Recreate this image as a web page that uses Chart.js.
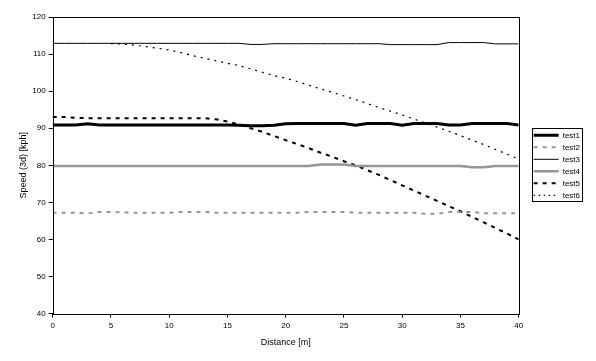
<!DOCTYPE html>
<html><head><meta charset="utf-8">
<script src="https://cdn.jsdelivr.net/npm/chart.js@4/dist/chart.umd.min.js"></script>
<style>html,body{margin:0;padding:0;background:#fff}#wrap{width:596px;height:361px}</style>
</head><body><div id="wrap"><canvas id="c" width="596" height="361"></canvas></div>
<script>
const distances = [0,1,2,3,4,5,6,7,8,9,10,11,12,13,14,15,16,17,18,19,20,21,22,23,24,25,26,27,28,29,30,31,32,33,34,35,36,37,38,39,40];
const seriesNames = ['test1','test2','test3','test4','test5','test6'];
const test1 = [90.9,90.9,90.9,91.2,90.9,90.9,90.9,90.9,90.9,90.9,90.9,90.9,90.9,90.9,90.9,90.9,90.8,90.7,90.7,90.8,91.2,91.25,91.25,91.25,91.25,91.25,90.8,91.25,91.25,91.25,90.8,91.3,91.3,91.3,90.85,90.85,91.25,91.25,91.25,91.25,90.85];
const test2 = [67.2,67.2,67.2,67.0,67.4,67.4,67.3,67.2,67.2,67.2,67.2,67.4,67.4,67.4,67.2,67.2,67.2,67.2,67.2,67.2,67.2,67.2,67.4,67.4,67.4,67.4,67.2,67.2,67.2,67.2,67.2,67.2,66.9,66.9,67.4,67.4,67.4,67.1,67.1,67.1,67.1];
const test3 = [112.9,112.9,112.9,112.9,112.9,112.9,112.9,112.9,112.9,112.9,112.9,112.9,112.9,112.9,112.9,112.9,112.9,112.6,112.6,112.8,112.8,112.8,112.8,112.8,112.8,112.8,112.8,112.8,112.8,112.55,112.55,112.55,112.55,112.55,113.1,113.1,113.1,113.1,112.75,112.75,112.75];
const test4 = [79.8,79.8,79.8,79.8,79.8,79.8,79.8,79.8,79.8,79.8,79.8,79.8,79.8,79.8,79.8,79.8,79.8,79.8,79.8,79.8,79.8,79.8,79.8,80.2,80.2,80.2,79.8,79.8,79.8,79.8,79.8,79.8,79.8,79.8,79.8,79.8,79.5,79.5,79.8,79.8,79.8];
const test5 = [93.0,93.0,92.8,92.7,92.7,92.7,92.7,92.7,92.7,92.7,92.7,92.7,92.7,92.7,92.4,91.8,91.0,90.0,89.0,87.9,86.8,85.7,84.6,83.4,82.3,81.1,80.0,78.7,77.4,76.0,74.6,73.2,71.8,70.4,69.0,67.6,66.1,64.6,63.1,61.6,60.0];
const test6 = [null,null,null,null,null,112.8,112.7,112.4,112.0,111.6,111.1,110.4,109.6,108.9,108.2,107.5,106.9,106.0,105.1,104.2,103.5,102.6,101.6,100.6,99.7,98.7,97.7,96.7,95.6,94.6,93.6,92.5,91.4,90.3,89.2,88.0,86.8,85.6,84.3,83.0,81.7];
const xTicks = [0,5,10,15,20,25,30,35,40];
const yTicks = [40,50,60,70,80,90,100,110,120];
const xTitle = 'Distance [m]';
const yTitle = 'Speed (3d) [kph]';

const GRAY = '#969696';
const styles = [
  {color:'#000', width:3, dash:[], legendDash:[]},
  {color:GRAY, width:2, dash:[4,5], legendDash:[4,5]},
  {color:'#000', width:1, dash:[], legendDash:[]},
  {color:GRAY, width:2.5, dash:[], legendDash:[]},
  {color:'#000', width:2, dash:[4,5], legendDash:[4,5]},
  {color:'#000', width:1.2, dash:[2,5], legendDash:[1.5,3.5]}
];
const values = [test1,test2,test3,test4,test5,test6];
const datasets = values.map((arr,i)=>({
  label: seriesNames[i],
  data: arr.map((v,j)=>({x:distances[j], y:v})),
  borderColor: styles[i].color,
  backgroundColor: styles[i].color,
  borderWidth: styles[i].width,
  borderDash: styles[i].dash,
  pointRadius: 0,
  tension: 0,
  fill: false,
  spanGaps: false
}));

const LEGEND_SHIFT = 11;
const frame = {
  id:'frame',
  afterLayout(chart){
    const lg = chart.legend;
    if (lg) { lg.left += LEGEND_SHIFT; lg.right += LEGEND_SHIFT; }
  },
  afterDatasetsDraw(chart){
    const {ctx, chartArea:a} = chart;
    ctx.save(); ctx.strokeStyle='#000'; ctx.lineWidth=1; ctx.setLineDash([]);
    ctx.strokeRect(Math.round(a.left)+0.5, Math.round(a.top)+0.5, Math.round(a.right-a.left), Math.round(a.bottom-a.top));
    ctx.restore();
  },
  afterDraw(chart){
    const lg = chart.legend; if(!lg || !lg.legendHitBoxes) return;
    const hb = lg.legendHitBoxes;
    let l=Infinity,t=Infinity,r=-Infinity,b=-Infinity;
    hb.forEach(h=>{l=Math.min(l,h.left);t=Math.min(t,h.top);r=Math.max(r,h.left+h.width);b=Math.max(b,h.top+h.height);});
    const ctx=chart.ctx; ctx.save(); ctx.strokeStyle='#000'; ctx.lineWidth=1; ctx.setLineDash([]);
    ctx.strokeRect(Math.round(l-2)+0.5, Math.round(t-3)+0.5, Math.round(r-l+4), Math.round(b-t+5));
    ctx.restore();
  }
};

const tickFont = {family:'"Liberation Sans", Arial, sans-serif', size:8};
new Chart(document.getElementById('c'), {
  type:'line',
  data:{datasets},
  plugins:[frame],
  options:{
    responsive:false, animation:false, devicePixelRatio:1,
    layout:{padding:{left:18.5, right:17, top:17, bottom:13}},
    plugins:{
      tooltip:{enabled:false},
      legend:{position:'right', align:'center', fullSize:false,
        labels:{usePointStyle:true, pointStyle:'line', pointStyleWidth:25, boxHeight:8, padding:4, color:'#000', font:tickFont,
          generateLabels(chart){
            return chart.data.datasets.map((ds,i)=>({
              text: ds.label, fillStyle: ds.borderColor, strokeStyle: ds.borderColor,
              lineWidth: ds.borderWidth, lineDash: styles[i].legendDash, lineCap:'butt',
              pointStyle:'line', hidden:false, datasetIndex:i, fontColor:'#000'
            }));
          }}}
    },
    scales:{
      x:{type:'linear', min:0, max:40,
        afterBuildTicks(s){ s.ticks = xTicks.map(v=>({value:v})); },
        ticks:{color:'#000', font:tickFont, padding:3, maxRotation:0},
        grid:{display:true, drawOnChartArea:false, drawTicks:true, tickLength:4, color:'#000'},
        border:{display:false},
        title:{display:true, text:xTitle, color:'#000', font:{family:'"Liberation Sans", Arial, sans-serif', size:9}, padding:{top:4,bottom:0}}
      },
      y:{type:'linear', min:40, max:120,
        afterBuildTicks(s){ s.ticks = yTicks.map(v=>({value:v})); },
        ticks:{color:'#000', font:tickFont, padding:3},
        grid:{display:true, drawOnChartArea:false, drawTicks:true, tickLength:4, color:'#000'},
        border:{display:false},
        title:{display:true, text:yTitle, color:'#000', font:{family:'"Liberation Sans", Arial, sans-serif', size:9}, padding:{top:0,bottom:0}}
      }
    }
  }
});
</script></body></html>
